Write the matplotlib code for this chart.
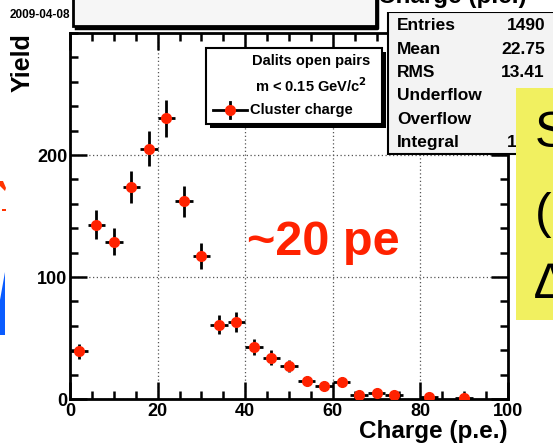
"""
plot.py

cluster charge spectrum for dalitz open pairs (ROOT style panel cut from a slide)
"""
import matplotlib
matplotlib.use("Agg")
import matplotlib.pyplot as plt
from matplotlib.patches import Rectangle, Polygon
from matplotlib.lines import Line2D
import numpy as np

plt.rcParams['font.family'] = ['Liberation Sans', 'DejaVu Sans']
plt.rcParams['font.weight'] = 'bold'

# data ------------------------------------------------------------------------
bin_centers = [2, 6, 10, 14, 18, 22, 26, 30, 34, 38, 42, 46,
               50, 54, 58, 62, 66, 70, 74, 78, 82, 86, 90]
counts = [39, 143, 129, 174, 205, 230, 162, 117, 61, 63, 43, 34,
          27, 15, 11, 14, 3, 5, 3, 0, 2, 0, 1]
bin_half_width = 2

stat_names = ['Entries', 'Mean', 'RMS', 'Underflow', 'Overflow', 'Integral']
stat_values = ['1490', '22.75', '13.41', '', '', '1490']

x_major = [0, 20, 40, 60, 80, 100]
y_major = [0, 100, 200]
legend_lines = ['Dalits open pairs', r'm < 0.15 GeV/c$^{\mathbf{2}}$']
legend_label = 'Cluster charge'
note_text = '~20 pe'
# -----------------------------------------------------------------------------

W, H = 553, 445
fig = plt.figure(figsize=(W / 100, H / 100), dpi=100)

def px(x0, y0, x1, y1):
    """ pixel box (top-left origin) -> figure fraction rect """
    return [x0 / W, 1 - y1 / H, (x1 - x0) / W, (y1 - y0) / H]

ax = fig.add_axes(px(70, 33, 508, 399))
x = np.array(bin_centers, dtype=float)
y = np.array(counts, dtype=float)
keep = y > 0
ax.errorbar(x[keep], y[keep], xerr=bin_half_width, yerr=np.sqrt(y[keep]),
            fmt='o', color='#ff2200', ecolor='black', elinewidth=2,
            markersize=7, capsize=0, zorder=3)

ax.set_xlim(0, 100)
ax.set_ylim(0, 300)
ax.set_xticks(x_major)
ax.set_yticks(y_major)
ax.set_xticks(np.arange(0, 101, 5), minor=True)
ax.set_yticks(np.arange(0, 301, 20), minor=True)
ax.tick_params(which='both', direction='in', top=True, right=True,
               width=1.8, labelsize=13)
ax.tick_params(which='major', length=12)
ax.tick_params(which='minor', length=6)
ax.tick_params(axis='x', pad=3)
ax.tick_params(axis='y', pad=2)
for lab in ax.get_xticklabels() + ax.get_yticklabels():
    lab.set_fontweight('bold')
for s in ax.spines.values():
    s.set_linewidth(2)
ax.grid(True, which='major', color='#555555', linestyle=(0, (1, 2)),
        linewidth=0.9)
ax.set_xlabel('Charge (p.e.)', fontsize=17.5, fontweight='bold', loc='right')
ax.xaxis.set_label_coords(1.0, -0.058)
ax.set_ylabel('Yield', fontsize=18, fontweight='bold', loc='top')
ax.yaxis.set_label_coords(-0.08, 1.0)
ax.text(0.405, 0.393, note_text, transform=ax.transAxes, color='#ff2200',
        fontsize=35, fontweight='bold', va='baseline', ha='left')

# overlay in pixel coordinates ------------------------------------------------
ov = fig.add_axes([0, 0, 1, 1], zorder=10)
ov.set_xlim(0, W)
ov.set_ylim(H, 0)
ov.axis('off')
ov.patch.set_alpha(0)

# title box at the top
ov.add_patch(Rectangle((73, -5), 303, 31, facecolor='#f6f6f6',
                       edgecolor='black', linewidth=2))
ov.plot([76, 377, 377], [28, 28, -5], color='black', linewidth=2.5)
ov.text(10, 15, '2009-04-08', fontsize=8.5, fontweight='bold', va='center')

# stats box
ov.add_patch(Rectangle((388, 12), 180, 142, facecolor='#f3f3f3',
                       edgecolor='black', linewidth=1.5))
ov.add_patch(Rectangle((380, -5), 180, 17, facecolor='white',
                       edgecolor='none'))
ov.text(452, -3, 'Charge (p.e.)', fontsize=17.5, fontweight='bold',
        ha='center', va='center')
for i, (nm, val) in enumerate(zip(stat_names, stat_values)):
    yy = 26 + i * 23.3
    ov.text(397, yy, nm, fontsize=12.5, fontweight='bold', va='center')
    ov.text(545, yy, val, fontsize=12.5, fontweight='bold', va='center',
            ha='right')

# legend
ov.add_patch(Rectangle((210, 52), 176, 76, facecolor='black',
                       edgecolor='none'))
ov.add_patch(Rectangle((206, 48), 176, 76, facecolor='white',
                       edgecolor='black', linewidth=1.5))
ov.text(311, 61, legend_lines[0], fontsize=10.5, fontweight='bold',
        ha='center', va='center')
ov.text(311, 86, legend_lines[1], fontsize=10.5, fontweight='bold',
        ha='center', va='center')
ov.add_line(Line2D([213, 247], [110, 110], color='black', linewidth=2))
ov.add_line(Line2D([230, 230], [102, 118], color='black', linewidth=2))
ov.plot([230], [110], 'o', color='#ff2200', markersize=7)
ov.text(250, 110, legend_label, fontsize=10.5, fontweight='bold',
        va='center')

# yellow slide box on the right, drawn over the stats box
ov.add_patch(Rectangle((516, 88), 60, 232, facecolor='#f1f060',
                       edgecolor='none', zorder=20))
for txt, yy in [('S', 134), ('(', 215), ('\u2206', 285)]:
    ov.text(535, yy, txt, fontsize=36, fontweight='normal', va='center',
            family=['Liberation Sans', 'DejaVu Sans'], zorder=21)

# slide fragments on the left edge
ov.add_patch(Polygon([[0, 300], [5, 272], [5, 335], [0, 335]],
                     closed=True, facecolor='#0a5cff', edgecolor='none'))
ov.add_patch(Polygon([[0, 181], [3, 181], [6, 188], [5, 191], [0, 186]],
                     closed=True, facecolor='#ff3300', edgecolor='none'))
ov.add_patch(Rectangle((2, 209), 4, 2, facecolor='#ff3300',
                       edgecolor='none'))

fig.savefig('out.png', dpi=100)
